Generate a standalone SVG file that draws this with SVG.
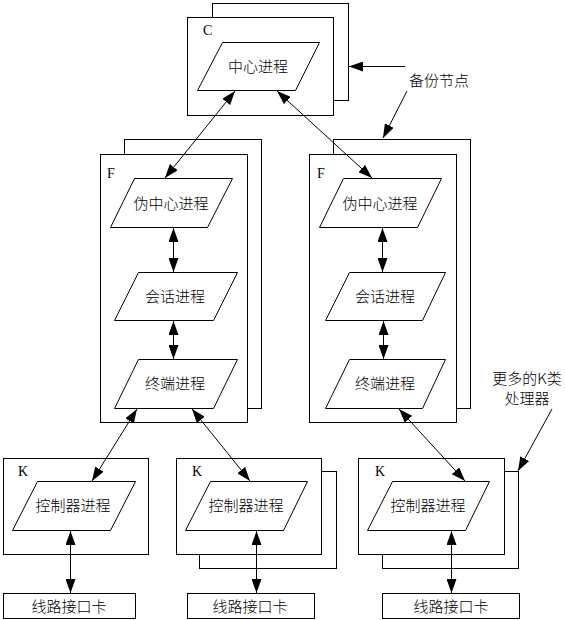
<svg xmlns="http://www.w3.org/2000/svg" width="565" height="620" viewBox="0 0 565 620">
<defs>
<style>
.box{fill:#fff;stroke:#000;stroke-width:1}
.pg{fill:#fff;stroke:#000;stroke-width:1}
.t{font-family:"Noto Sans CJK SC","Noto Sans",sans-serif;font-size:15px;font-weight:300;fill:#000;text-anchor:middle;dominant-baseline:central}
.l{font-family:"Liberation Serif",serif;font-size:14px;font-weight:normal;fill:#000}
.c{stroke:#000;stroke-width:1;fill:none}
.bi{marker-start:url(#ah);marker-end:url(#ah)}
.one{marker-end:url(#ah)}
</style>
<marker id="ah" viewBox="0 0 14 10" refX="14" refY="5" markerWidth="14" markerHeight="10" markerUnits="userSpaceOnUse" orient="auto-start-reverse">
<path d="M0,0 L14,5 L0,10 z" fill="#000"/>
</marker>
</defs>
<rect width="565" height="620" fill="#fff"/>

<g id="C">
<rect class="box" x="212.5" y="3.5" width="136" height="97"/>
<rect class="box" x="187.5" y="17.5" width="146" height="98"/>
<text class="l" x="203" y="35">C</text>
<polygon class="pg" points="222.5,42.5 319.5,42.5 295.5,90.5 197.5,90.5"/>
<text class="t" x="258" y="65">中心进程</text>
</g>

<g id="backup-label">
<text class="t" x="439" y="79">备份节点</text>
</g>

<g id="F1">
<rect class="box" x="124.5" y="139.5" width="137" height="269"/>
<rect class="box" x="100.5" y="154.5" width="147" height="268"/>
<text class="l" x="107" y="178">F</text>
<polygon class="pg" points="134.5,178.5 232.5,178.5 207.5,227.5 110.5,227.5"/>
<text class="t" x="171" y="202">伪中心进程</text>
<polygon class="pg" points="138.5,272.5 237.5,272.5 213.5,320.5 114.5,320.5"/>
<text class="t" x="175" y="295">会话进程</text>
<polygon class="pg" points="138.5,359.5 237.5,359.5 213.5,408.5 114.5,408.5"/>
<text class="t" x="175" y="382">终端进程</text>
</g>

<g id="F2">
<rect class="box" x="333.5" y="139.5" width="137" height="269"/>
<rect class="box" x="309.5" y="154.5" width="147" height="268"/>
<text class="l" x="317" y="178">F</text>
<polygon class="pg" points="343.5,178.5 441.5,178.5 417.5,227.5 319.5,227.5"/>
<text class="t" x="380" y="202">伪中心进程</text>
<polygon class="pg" points="349.5,272.5 445.5,272.5 422.5,320.5 325.5,320.5"/>
<text class="t" x="385" y="295">会话进程</text>
<polygon class="pg" points="349.5,359.5 445.5,359.5 422.5,408.5 325.5,408.5"/>
<text class="t" x="385" y="382">终端进程</text>
</g>

<g id="more-label">
<text class="t" x="527" y="377">更多的K类</text>
<text class="t" x="527" y="397">处理器</text>
</g>

<g id="K1">
<rect class="box" x="3.5" y="458.5" width="145" height="96"/>
<text class="l" x="18" y="476">K</text>
<polygon class="pg" points="37.5,481.5 135.5,481.5 110.5,530.5 12.5,530.5"/>
<text class="t" x="73" y="504">控制器进程</text>
</g>

<g id="K2">
<rect class="box" x="199.5" y="471.5" width="137" height="97"/>
<rect class="box" x="176.5" y="458.5" width="145" height="96"/>
<text class="l" x="192" y="476">K</text>
<polygon class="pg" points="210.5,481.5 307.5,481.5 283.5,530.5 185.5,530.5"/>
<text class="t" x="246" y="504">控制器进程</text>
</g>

<g id="K3">
<rect class="box" x="382.5" y="471.5" width="136" height="97"/>
<rect class="box" x="358.5" y="458.5" width="146" height="96"/>
<text class="l" x="375" y="476">K</text>
<polygon class="pg" points="392.5,481.5 489.5,481.5 465.5,530.5 367.5,530.5"/>
<text class="t" x="428" y="504">控制器进程</text>
</g>

<g id="card1">
<rect class="box" x="3.5" y="593.5" width="132" height="25"/>
<text class="t" x="69" y="605">线路接口卡</text>
</g>
<g id="card2">
<rect class="box" x="187.5" y="593.5" width="127" height="25"/>
<text class="t" x="250" y="605">线路接口卡</text>
</g>
<g id="card3">
<rect class="box" x="382.5" y="593.5" width="137" height="25"/>
<text class="t" x="451" y="605">线路接口卡</text>
</g>

<g id="connectors">
<line class="c one" x1="405" y1="66.5" x2="349" y2="66.5"/>
<line class="c one" x1="407" y1="91" x2="383" y2="138"/>
<line class="c bi" x1="235" y1="91" x2="165" y2="178"/>
<line class="c bi" x1="277" y1="91" x2="372" y2="178"/>
<line class="c bi" x1="173.5" y1="228" x2="173.5" y2="272"/>
<line class="c bi" x1="173.5" y1="321" x2="173.5" y2="359"/>
<line class="c bi" x1="382.5" y1="228" x2="382.5" y2="272"/>
<line class="c bi" x1="383.5" y1="321" x2="383.5" y2="359"/>
<line class="c bi" x1="137" y1="409" x2="92" y2="481"/>
<line class="c bi" x1="192" y1="409" x2="250" y2="481"/>
<line class="c bi" x1="399" y1="409" x2="465" y2="481"/>
<line class="c one" x1="552" y1="409" x2="518" y2="471"/>
<line class="c bi" x1="70.5" y1="531" x2="70.5" y2="593"/>
<line class="c bi" x1="256.5" y1="531" x2="256.5" y2="593"/>
<line class="c bi" x1="451.5" y1="531" x2="451.5" y2="593"/>
</g>
</svg>
